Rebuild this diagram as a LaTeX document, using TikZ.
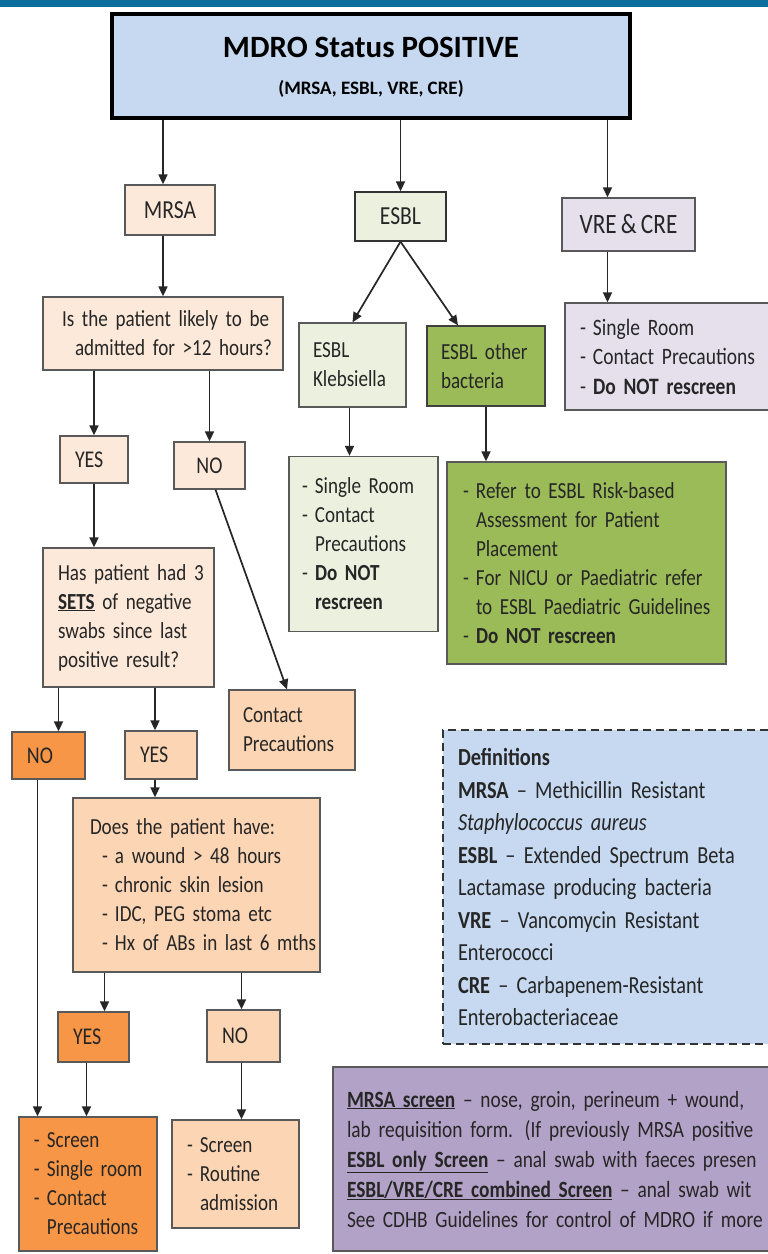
\documentclass[tikz,border=0pt]{standalone}
\usepackage{fontspec}
\setmainfont{Carlito}[FakeStretch=0.83,WordSpace=0.8]
\newfontfamily\titlefont{Carlito}
\usetikzlibrary{arrows.meta}
\definecolor{band}{RGB}{11,110,156}
\definecolor{titlefill}{HTML}{C6D9F0}
\definecolor{peach}{HTML}{FDE9D9}
\definecolor{lgreen}{HTML}{EBF1DE}
\definecolor{lav}{HTML}{E5E0EC}
\definecolor{olive}{HTML}{9BBB59}
\definecolor{lorange}{HTML}{FCD5B4}
\definecolor{orange}{HTML}{F79646}
\definecolor{purp}{HTML}{B3A2C7}
\definecolor{bord}{HTML}{595959}
\definecolor{txt}{HTML}{262626}
\newcommand\dsh{\makebox[13pt][l]{-}}
\newcommand\ind{\hspace*{13pt}}
\newcommand\ml[1]{\mbox{#1}}
\begin{document}
\begin{tikzpicture}[x=1pt,y=-1pt,
  box/.style={draw=bord, line width=1.3pt, inner sep=0pt, text=txt,
    font=\fontsize{23}{29}\selectfont},
  lbox/.style={box, align=left},
  arr/.style={-{Triangle[length=10pt,width=9pt]}, line width=1.7pt, draw=black!85}]
\clip (0,0) rectangle (768,1254);
\fill[white] (0,0) rectangle (768,1254);
\fill[band] (0,0) rectangle (768,7);

% title
\node[draw=black, line width=4.5pt, fill=titlefill, minimum width=518pt, minimum height=104pt, align=center, text=black, inner sep=0pt]
  (title) at (371,66) {\rule{0pt}{8pt}\\[-6pt]\titlefont\fontsize{31}{31}\selectfont\bfseries MDRO Status POSITIVE\\[22pt]
  \titlefont\fontsize{19}{19}\selectfont\bfseries (MRSA, ESBL, VRE, CRE)};

% level 1
\node[box, fill=peach, minimum width=90pt, minimum height=50pt, font=\fontsize{26}{29}\selectfont] (mrsa) at (170,210) {MRSA};
\node[box, draw=black!80, fill=lgreen, minimum width=91pt, minimum height=49pt, font=\fontsize{26}{29}\selectfont] (esbl) at (400.5,216.5) {ESBL};
\node[box, fill=lav, minimum width=133pt, minimum height=53pt, font=\fontsize{28}{29}\selectfont] (vre) at (628.5,224.5) {VRE \& CRE};

% MRSA branch
\node[lbox, fill=peach, minimum width=240pt, minimum height=73pt, text width=202pt, inner xsep=19pt] (q1) at (163,333.5)
  {\ml{Is the patient likely to be}\\\ml{\hspace*{13pt}admitted for >12 hours?}};
\node[lbox, fill=peach, minimum width=68pt, minimum height=47pt, text width=38pt, inner xsep=15pt, font=\fontsize{24}{29}\selectfont] (yes1) at (94,459.5) {YES};
\node[box, fill=peach, minimum width=71pt, minimum height=47pt, font=\fontsize{24}{29}\selectfont] (no1) at (209.5,465.5) {NO};
\node[lbox, fill=peach, minimum width=171pt, minimum height=139pt, text width=141pt, inner xsep=15pt] (q2) at (128.5,617.5)
  {\ml{Has patient had 3}\\\ml{\textbf{\underline{SETS}} of negative}\\\ml{swabs since last}\\\ml{positive result?}};
\node[lbox, fill=lorange, minimum width=126pt, minimum height=80pt, text width=98pt, inner xsep=14pt] (cp) at (292,730)
  {Contact\\Precautions};
\node[lbox, fill=orange, minimum width=73pt, minimum height=47pt, text width=43pt, inner xsep=15pt, font=\fontsize{24}{29}\selectfont] (no2) at (48.5,755.5) {NO};
\node[lbox, fill=lorange, minimum width=72pt, minimum height=48pt, text width=42pt, inner xsep=15pt, font=\fontsize{24}{29}\selectfont] (yes2) at (161,755) {YES};
\node[lbox, fill=lorange, minimum width=247pt, minimum height=174pt, text width=213pt, inner xsep=17pt] (q3) at (196.5,885)
  {\ml{Does the patient have:}\\
   \ml{\hspace*{12pt}\dsh a wound > 48 hours}\\
   \ml{\hspace*{12pt}\dsh chronic skin lesion}\\
   \ml{\hspace*{12pt}\dsh IDC, PEG stoma etc}\\
   \ml{\hspace*{12pt}\dsh Hx of ABs in last 6 mths}};
\node[lbox, fill=orange, minimum width=71pt, minimum height=50pt, text width=41pt, inner xsep=15pt, font=\fontsize{24}{29}\selectfont] (yes3) at (93.5,1037) {YES};
\node[lbox, fill=lorange, minimum width=73pt, minimum height=52pt, text width=43pt, inner xsep=15pt, font=\fontsize{24}{29}\selectfont] (no3) at (243.5,1036) {NO};
\node[lbox, fill=orange, minimum width=138pt, minimum height=134pt, text width=108pt, inner xsep=15pt] (fin1) at (88,1184)
  {\ml{\dsh Screen}\\\ml{\dsh Single room}\\\ml{\dsh Contact}\\\ml{\ind Precautions}};
\node[lbox, fill=lorange, minimum width=127pt, minimum height=108pt, text width=97pt, inner xsep=15pt] (fin2) at (235.5,1174)
  {\ml{\dsh Screen}\\\ml{\dsh Routine}\\\ml{\ind admission}};

% ESBL branch
\node[lbox, fill=lgreen, minimum width=107pt, minimum height=84pt, text width=79pt, inner xsep=14pt] (kleb) at (352.5,365)
  {ESBL\\Klebsiella};
\node[lbox, draw=black!75, fill=olive, minimum width=118pt, minimum height=80pt, text width=90pt, inner xsep=14pt] (other) at (486,366)
  {\ml{ESBL other}\\bacteria};
\node[lbox, fill=lgreen, minimum width=149pt, minimum height=175pt, text width=123pt, inner xsep=13pt] (kleb2) at (363.5,544)
  {\ml{\dsh Single Room}\\\ml{\dsh Contact}\\\ml{\ind Precautions}\\\ml{\dsh \textbf{Do NOT}}\\\ml{\ind\textbf{rescreen}}};
\node[lbox, fill=olive, minimum width=279pt, minimum height=202pt, text width=247pt, inner xsep=16pt] (other2) at (586.5,563)
  {\ml{\dsh Refer to ESBL Risk-based}\\\ml{\ind Assessment for Patient}\\\ml{\ind Placement}\\
   \ml{\dsh For NICU or Paediatric refer}\\\ml{\ind to ESBL Paediatric Guidelines}\\\ml{\dsh \textbf{Do NOT rescreen}}};

% VRE branch
\node[lbox, fill=lav, minimum width=210pt, minimum height=107pt, text width=180pt, inner xsep=15pt, font=\fontsize{23.5}{29.5}\selectfont] (vre2) at (670,356.5)
  {\ml{\dsh Single Room}\\\ml{\dsh Contact Precautions}\\\ml{\dsh \textbf{Do NOT rescreen}}};

% definitions
\node[lbox, dash pattern=on 8pt off 5pt, draw=black!80, fill=titlefill, minimum width=337pt, minimum height=314pt, text width=307pt, inner xsep=15pt,
  font=\fontsize{24.5}{32.5}\selectfont] (defs) at (611.5,887)
  {\ml{\textbf{Definitions}}\\
   \ml{\textbf{MRSA} -- Methicillin Resistant}\\
   \ml{\textit{Staphylococcus aureus}}\\
   \ml{\textbf{ESBL} -- Extended Spectrum Beta}\\
   \ml{Lactamase producing bacteria}\\
   \ml{\textbf{VRE} -- Vancomycin Resistant}\\
   \ml{Enterococci}\\
   \ml{\textbf{CRE} -- Carbapenem-Resistant}\\
   \ml{Enterobacteriaceae}};

% screening box
\node[lbox, fill=purp, minimum width=457pt, minimum height=184pt, text width=429pt, inner xsep=14pt,
  font=\fontsize{23.3}{30}\selectfont] (scr) at (561.5,1159)
  {\ml{\textbf{\underline{MRSA screen}} -- nose, groin, perineum + wound,}\\
   \ml{lab requisition form. (If previously MRSA positive}\\
   \ml{\textbf{\underline{ESBL only Screen}} -- anal swab with faeces presen}\\
   \ml{\textbf{\underline{ESBL/VRE/CRE combined Screen}} -- anal swab wit}\\
   \ml{See CDHB Guidelines for control of MDRO if more}};

% connectors
\path ([xshift=-7pt]mrsa.north) coordinate (m1);
\path ([xshift=-21pt]vre.north) coordinate (v1);
\draw[arr] (title.south -| m1) -- (m1);
\draw[arr] (title.south -| esbl.north) -- (esbl.north);
\draw[arr] (title.south -| v1) -- (v1);

\draw[arr] ([xshift=-7pt]mrsa.south) -- ([xshift=-7pt]mrsa.south |- q1.north);
\draw[arr] (q1.south -| yes1.north) -- (yes1.north);
\draw[arr] (q1.south -| no1.north) -- (no1.north);
\draw[arr] (yes1.south) -- (yes1.south |- q2.north);
\draw[arr] ([xshift=6pt]no1.south) -- ([xshift=-5pt]cp.north);
\path ([xshift=10pt]no2.north) coordinate (n2);
\path ([xshift=-6pt]yes2.north) coordinate (y2);
\draw[arr] (q2.south -| n2) -- (n2);
\draw[arr] (q2.south -| y2) -- (y2);
\draw[arr] ([xshift=-6pt]yes2.south) -- ([xshift=-6pt]yes2.south |- q3.north);
\path ([xshift=11pt]yes3.north) coordinate (y3);
\path ([xshift=-2pt]no3.north) coordinate (n3);
\draw[arr] (q3.south -| y3) -- (y3);
\draw[arr] (q3.south -| n3) -- (n3);
\draw[arr] ([xshift=-11pt]no2.south) -- ([xshift=-11pt]no2.south |- fin1.north);
\draw[arr] ([xshift=-7pt]yes3.south) -- ([xshift=-7pt]yes3.south |- fin1.north);
\draw[arr] ([xshift=-2pt]no3.south) -- ([xshift=-2pt]no3.south |- fin2.north);

\draw[arr] (esbl.south) -- (kleb.north);
\draw[arr] (esbl.south) -- ([xshift=-28pt]other.north);
\draw[arr] ([xshift=-3pt]kleb.south) -- ([xshift=-3pt]kleb.south |- kleb2.north);
\draw[arr] (other.south) -- (other.south |- other2.north);
\draw[arr] ([xshift=-21pt]vre.south) -- ([xshift=-21pt]vre.south |- vre2.north);
\end{tikzpicture}
\end{document}
